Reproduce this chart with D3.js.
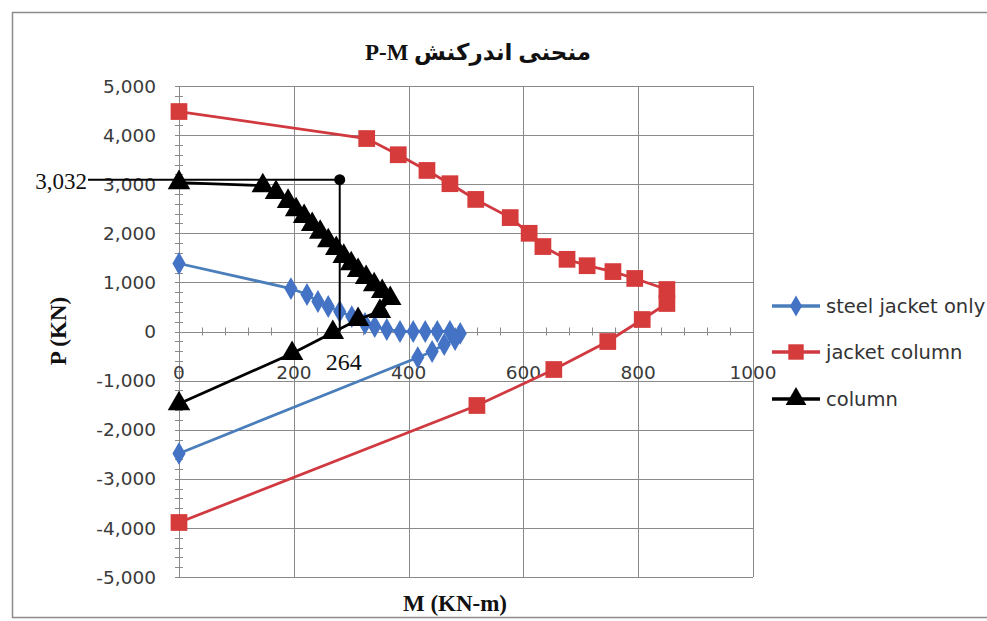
<!DOCTYPE html>
<html><head><meta charset="utf-8">
<script src="https://cdn.jsdelivr.net/npm/d3@7/dist/d3.min.js"></script>
<style>
html,body{margin:0;padding:0;background:#fff;}
svg{display:block;}
</style></head>
<body>
<script>
// ---- data (M in KN-m, P in KN) ----
const steelJacketM = [0,195,223,242,260,280,301,324,341,362,385,408,429,450,472,490,481,462,441,416,0];
const steelJacketP = [1385,875,754,611,509,407,305,163,102,41,0,0,0,0,0,-40,-163,-265,-407,-530,-2485];
const jacketColM = [0,327,382,432,472,517,577,610,634,676,711,756,794,850,850,807,747,653,519,0];
const jacketColP = [4480,3930,3600,3280,3010,2690,2320,2000,1730,1470,1340,1220,1080,855,570,244,-204,-774,-1507,-3890];
const columnM = [0,146,169,190,204,218,232,246,260,274,287,300,312,326,340,354,368,350,312,268,197,0];
const columnP = [3032,2970,2830,2650,2480,2340,2180,2020,1850,1690,1530,1380,1240,1100,950,815,670,410,245,-20,-450,-1470];
const seriesNames = ["steel jacket only","jacket column","column"];
const xTicks = [0,200,400,600,800,1000];
const yTicks = [5000,4000,3000,2000,1000,0,-1000,-2000,-3000,-4000,-5000];
const annotP = 3032, annotM = 280, annotLabel = "264";
const titleText = "منحنی اندرکنش P-M";
const xTitle = "M (KN-m)", yTitle = "P (KN)";

const W = 987, H = 621;
const svg = d3.select("body").append("svg").attr("width", W).attr("height", H);
svg.append("rect").attr("x",12.5).attr("y",12.5).attr("width",1000).attr("height",605)
  .attr("fill","#fff").attr("stroke","#8c8c8c").attr("stroke-width",1.5);

const x = d3.scaleLinear().domain([0,1000]).range([179,753]);
const y = d3.scaleLinear().domain([-5000,5000]).range([577,86]);

// grid
const g = svg.append("g");
g.selectAll("line.h").data(yTicks).join("line")
  .attr("x1",x(0)).attr("x2",x(1000)).attr("y1",d=>Math.round(y(d))+0.5).attr("y2",d=>Math.round(y(d))+0.5)
  .attr("stroke","#8a8a8a").attr("stroke-width",1);
g.selectAll("line.v").data(xTicks).join("line")
  .attr("y1",y(5000)).attr("y2",y(-5000)).attr("x1",d=>Math.round(x(d))+0.5).attr("x2",d=>Math.round(x(d))+0.5)
  .attr("stroke","#8a8a8a").attr("stroke-width",1);

// minor ticks
const xMinor = d3.range(0,1001,40);
g.selectAll("line.xm").data(xMinor).join("line")
  .attr("x1",d=>Math.round(x(d))+0.5).attr("x2",d=>Math.round(x(d))+0.5)
  .attr("y1",y(0)-4).attr("y2",y(0)+4).attr("stroke","#8a8a8a");
const yMinor = d3.range(-5000,5001,200);
g.selectAll("line.ym").data(yMinor).join("line")
  .attr("y1",d=>Math.round(y(d))+0.5).attr("y2",d=>Math.round(y(d))+0.5)
  .attr("x1",x(0)-4).attr("x2",x(0)+4).attr("stroke","#8a8a8a");

// tick labels
const fmt = v => d3.format(",")(v).replace("\u2212","-");
const sansFont = "'DejaVu Sans', 'Open Sans', sans-serif";
svg.selectAll("text.yt").data(yTicks).join("text")
  .attr("x",156).attr("y",d=>y(d)).attr("dy","0.36em").attr("text-anchor","end")
  .attr("font-family",sansFont).attr("font-size",18.5).attr("fill","#3a3a3a")
  .text(d=>fmt(d));
svg.selectAll("text.xt").data(xTicks).join("text")
  .attr("x",d=>x(d)).attr("y",y(0)+41).attr("dy","0.36em").attr("text-anchor","middle")
  .attr("font-family",sansFont).attr("font-size",18.5).attr("fill","#3a3a3a")
  .text(d=>d);

// series
const series = [
  {name:seriesNames[0], M:steelJacketM, P:steelJacketP, line:"#4a7ebb", fill:"#4472c4", shape:d3.symbolDiamond, size:150},
  {name:seriesNames[1], M:jacketColM, P:jacketColP, line:"#d0393f", fill:"#d63b3b", shape:d3.symbolSquare, size:280},
  {name:seriesNames[2], M:columnM, P:columnP, line:"#000", fill:"#000", shape:d3.symbolTriangle, size:220}
];
const line = d3.line().x(d=>x(d[0])).y(d=>y(d[1]));
series.forEach(s=>{
  const pts = s.M.map((m,i)=>[m,s.P[i]]);
  svg.append("path").datum(pts).attr("d",line).attr("fill","none").attr("stroke",s.line).attr("stroke-width",2.8);
  svg.selectAll(null).data(pts).join("path")
    .attr("transform",d=>`translate(${x(d[0])},${y(d[1])})`)
    .attr("d",d3.symbol().type(s.shape).size(s.size)).attr("fill",s.fill);
});

// annotation
const serif = "'Liberation Serif', 'DejaVu Serif', serif";
svg.append("line").attr("x1",88).attr("x2",x(annotM)).attr("y1",y(annotP)-3).attr("y2",y(annotP)-3)
  .attr("stroke","#000").attr("stroke-width",2);
svg.append("line").attr("x1",x(annotM)).attr("x2",x(annotM)).attr("y1",y(annotP)-3).attr("y2",y(0))
  .attr("stroke","#000").attr("stroke-width",2);
svg.append("circle").attr("cx",x(annotM)).attr("cy",y(annotP)-3).attr("r",5.5).attr("fill","#000");
svg.append("text").attr("x",87).attr("y",y(annotP)-2).attr("dy","0.35em").attr("text-anchor","end")
  .attr("font-family",serif).attr("font-size",23).attr("fill","#111").text(fmt(annotP));
svg.append("text").attr("x",x(annotM)+4).attr("y",y(0)+30).attr("dy","0.35em").attr("text-anchor","middle")
  .attr("font-family",serif).attr("font-size",24).attr("fill","#111").text(annotLabel);

// titles
svg.append("text").attr("x",478).attr("y",52).attr("dy","0.35em").attr("text-anchor","middle")
  .attr("direction","rtl")
  .attr("font-family","'Liberation Serif', 'DejaVu Sans', serif").attr("font-weight","bold").attr("font-size",23)
  .attr("fill","#111").text(titleText);
svg.append("text").attr("x",455).attr("y",603).attr("dy","0.35em").attr("text-anchor","middle")
  .attr("font-family",serif).attr("font-weight","bold").attr("font-size",23)
  .attr("fill","#111").text(xTitle);
svg.append("text").attr("transform","translate(58,331) rotate(-90)").attr("dy","0.35em").attr("text-anchor","middle")
  .attr("font-family",serif).attr("font-weight","bold").attr("font-size",23)
  .attr("fill","#111").text(yTitle);

// legend
const legY = [306,352,399];
series.forEach((s,i)=>{
  const lg = svg.append("g").attr("transform",`translate(772,${legY[i]})`);
  lg.append("line").attr("x1",0).attr("x2",48).attr("stroke",s.line).attr("stroke-width",3.5);
  lg.append("path").attr("transform","translate(24,0)").attr("d",d3.symbol().type(s.shape).size(s.size*0.85)).attr("fill",s.fill);
  lg.append("text").attr("x",54).attr("dy","0.36em").attr("font-family",sansFont)
    .attr("font-size",19.5).attr("fill","#333").text(s.name);
});
</script>
</body></html>
